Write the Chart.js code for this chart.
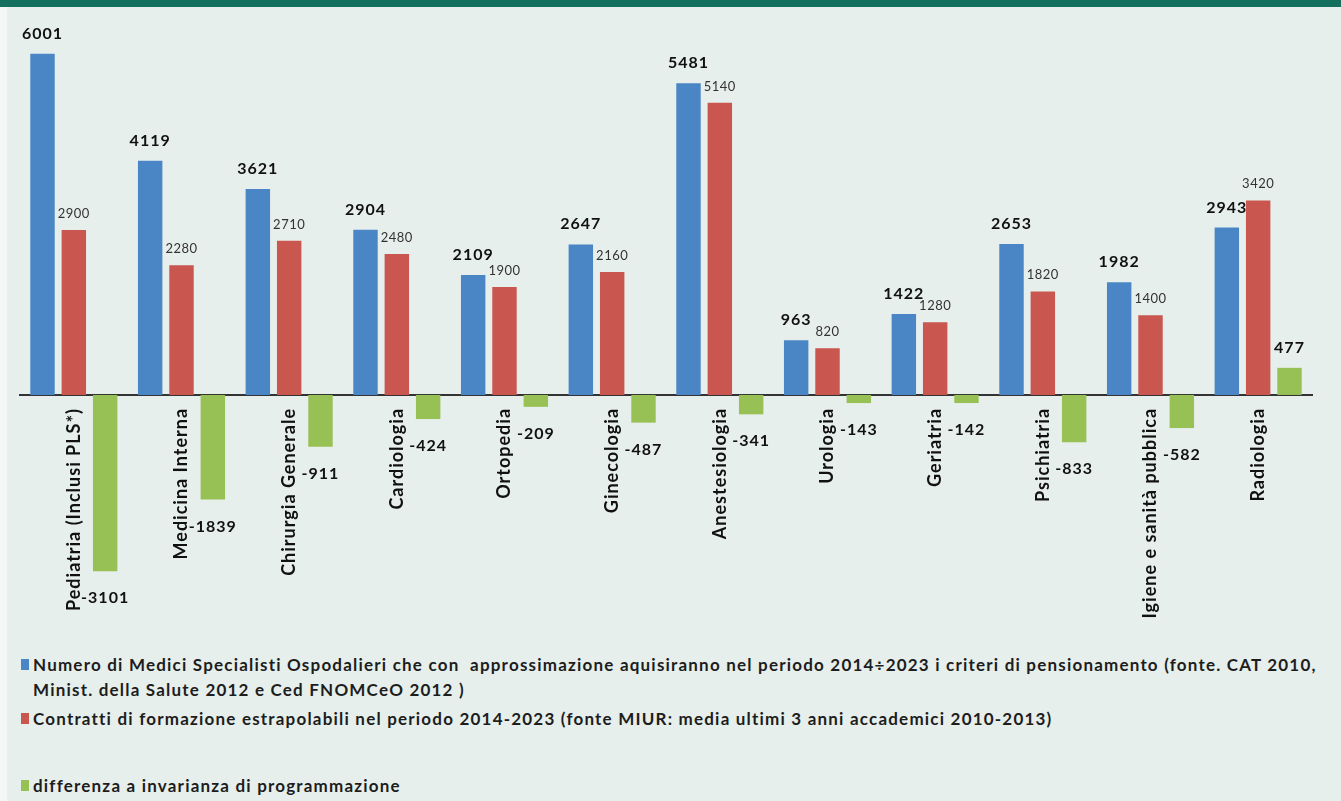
<!DOCTYPE html>
<html lang="it">
<head>
<meta charset="utf-8">
<title>Medici specialisti ospedalieri 2014-2023</title>
<script src="https://cdn.jsdelivr.net/npm/chart.js@4.4.1/dist/chart.umd.min.js"></script>
<style>
  html, body { margin: 0; padding: 0; }
  body {
    width: 1341px; height: 801px; overflow: hidden; position: relative;
    background: #e7efec; font-family: Lato, "Open Sans", sans-serif;
  }
  #topbar { position: absolute; left: 0; top: 0; width: 1341px; height: 7px; background: #13705f; z-index: 3; }
  #edge { position: absolute; left: 0; top: 7px; width: 7px; height: 794px; background: #f3f7f5; }
  #wrap { position: absolute; left: 0; top: 0; width: 1341px; height: 640px; }
  #legend {
    position: absolute; left: 21px; top: 652px; width: 1315px;
    font-weight: bold; font-size: 17px; letter-spacing: 1.2px; color: #1d1d1d;
  }
  .item { display: flex; align-items: flex-start; line-height: 25px; white-space: pre-wrap; }
  .item:nth-child(2) { margin-top: 4px; }
  .item:nth-child(3) { margin-top: 42px; }
  .box { width: 8px; height: 11px; margin: 7px 4px 0 0; flex: none; }
</style>
</head>
<body>
<div id="topbar"></div>
<div id="edge"></div>
<div id="wrap"><canvas id="specialisti"></canvas></div>
<div id="legend"></div>

<script>
const categories = [
  'Pediatria (Inclusi PLS*)', 'Medicina Interna', 'Chirurgia Generale', 'Cardiologia',
  'Ortopedia', 'Ginecologia', 'Anestesiologia', 'Urologia', 'Geriatria',
  'Psichiatria', 'Igiene e sanità pubblica', 'Radiologia'
];

// medici che raggiungono i criteri di pensionamento 2014-2023
const pensionamenti = [6001, 4119, 3621, 2904, 2109, 2647, 5481, 963, 1422, 2653, 1982, 2943];
// contratti di formazione 2014-2023
const contratti = [2900, 2280, 2710, 2480, 1900, 2160, 5140, 820, 1280, 1820, 1400, 3420];
// differenza a invarianza di programmazione
const differenza = [-3101, -1839, -911, -424, -209, -487, -341, -143, -142, -833, -582, 477];

const seriesNames = [
  'Numero di Medici Specialisti Ospodalieri che con  approssimazione aquisiranno nel periodo 2014÷2023 i criteri di pensionamento (fonte. CAT 2010,\nMinist. della Salute 2012 e Ced FNOMCeO 2012 )',
  'Contratti di formazione estrapolabili nel periodo 2014-2023 (fonte MIUR: media ultimi 3 anni accademici 2010-2013)',
  'differenza a invarianza di programmazione'
];

// font and offset of the value written on each series
const valueStyle = [
  { font: 'bold 16px Lato', spacing: '1px', color: '#111', above: 15 },
  { font: '13px Lato', spacing: '0.5px', color: '#333', above: 12 },
  { font: 'bold 16px Lato', spacing: '1px', color: '#111', above: 15, below: 32 }
];

// wider tracking for the category names
const tracking = {
  id: 'tracking',
  beforeDraw(chart) { chart.ctx.letterSpacing = '1px'; },
  afterDraw(chart) { chart.ctx.letterSpacing = '0px'; }
};

const valueLabels = {
  id: 'valueLabels',
  afterDatasetsDraw(chart) {
    const ctx = chart.ctx;
    ctx.save();
    ctx.textAlign = 'center';
    ctx.textBaseline = 'alphabetic';
    chart.data.datasets.forEach((ds, i) => {
      const st = valueStyle[i];
      ctx.font = st.font;
      ctx.letterSpacing = st.spacing;
      ctx.fillStyle = st.color;
      chart.getDatasetMeta(i).data.forEach((bar, j) => {
        const v = ds.data[j];
        const y = v >= 0 ? bar.y - st.above : bar.y + st.below;
        ctx.fillText(String(v), bar.x, y);
      });
    });
    ctx.restore();
  }
};

const htmlLegend = {
  id: 'htmlLegend',
  afterUpdate(chart) {
    const box = document.getElementById('legend');
    box.innerHTML = '';
    chart.data.datasets.forEach(ds => {
      const row = document.createElement('div');
      row.className = 'item';
      const sq = document.createElement('span');
      sq.className = 'box';
      sq.style.background = ds.backgroundColor;
      const txt = document.createElement('span');
      txt.textContent = ds.label;
      row.appendChild(sq);
      row.appendChild(txt);
      box.appendChild(row);
    });
  }
};

const config = {
  type: 'bar',
  data: {
    labels: categories,
    datasets: [
      { label: seriesNames[0], data: pensionamenti, backgroundColor: '#4a86c6' },
      { label: seriesNames[1], data: contratti, backgroundColor: '#c9564f' },
      { label: seriesNames[2], data: differenza, backgroundColor: '#98c155' }
    ]
  },
  options: {
    responsive: true,
    maintainAspectRatio: false,
    animation: false,
    categoryPercentage: 0.873,
    barPercentage: 0.78,
    layout: { padding: { left: 20, right: 29, top: 31, bottom: 46 } },
    plugins: { legend: { display: false }, tooltip: { enabled: false } },
    scales: {
      x: {
        position: { y: 0 },
        grid: { display: false, drawTicks: true, tickLength: 13 },
        border: { display: true, color: '#333', width: 2 },
        ticks: {
          autoSkip: false, minRotation: 90, maxRotation: 90, padding: 0,
          color: '#111', font: { family: 'Lato', size: 18, weight: 'bold' }
        }
      },
      y: { display: false, min: -3500, max: 6400 }
    }
  },
  plugins: [tracking, valueLabels, htmlLegend]
};

new Chart(document.getElementById('specialisti').getContext('2d'), config);
</script>
</body>
</html>
